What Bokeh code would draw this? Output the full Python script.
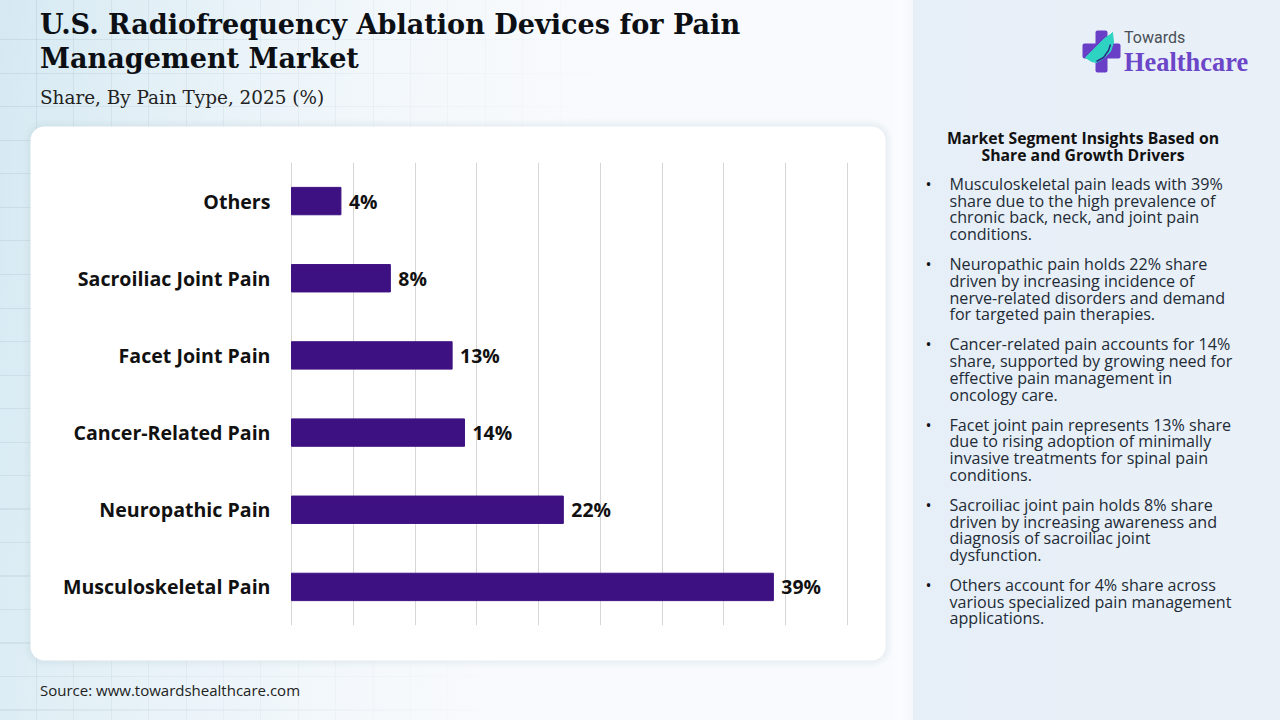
from bokeh.embed import file_html
from bokeh.resources import INLINE
from bokeh.plotting import figure
from bokeh.models import (BoxAnnotation, ColumnDataSource, FactorRange, FixedTicker,
                          GlobalInlineStyleSheet, Range1d)

categories = ["Musculoskeletal Pain", "Neuropathic Pain", "Cancer-Related Pain",
              "Facet Joint Pain", "Sacroiliac Joint Pain", "Others"]
shares = [39, 22, 14, 13, 8, 4]
share_labels = ["39%", "22%", "14%", "13%", "8%", "4%"]
grid_ticks = [0, 5, 10, 15, 20, 25, 30, 35, 40, 45]

title_lines = ["U.S. Radiofrequency Ablation Devices for Pain", "Management Market"]
subtitle = "Share, By Pain Type, 2025 (%)"
source_text = "Source: www.towardshealthcare.com"
insight_heading = ["Market Segment Insights Based on", "Share and Growth Drivers"]
insights = [
    ["Musculoskeletal pain leads with 39%", "share due to the high prevalence of",
     "chronic back, neck, and joint pain", "conditions."],
    ["Neuropathic pain holds 22% share", "driven by increasing incidence of",
     "nerve-related disorders and demand", "for targeted pain therapies."],
    ["Cancer-related pain accounts for 14%", "share, supported by growing need for",
     "effective pain management in", "oncology care."],
    ["Facet joint pain represents 13% share", "due to rising adoption of minimally",
     "invasive treatments for spinal pain", "conditions."],
    ["Sacroiliac joint pain holds 8% share", "driven by increasing awareness and",
     "diagnosis of sacroiliac joint", "dysfunction."],
    ["Others account for 4% share across", "various specialized pain management",
     "applications."],
]

W, H = 1280, 720
PAD = 1                               # frame overshoot so the edge grid lines are drawn
FL, FR, FT, FB = 291, 847, 162, 625   # plot area in window pixels
UNIT = 45 / (FR - FL)

css = """
html, body { margin: 0; overflow: hidden; }
html { background:
  linear-gradient(90deg, transparent 913px, #e6eef7 913px, #e9f0f8 1280px),
  linear-gradient(90deg, transparent 890px, #fbfcfe 900px, #f4f7fb 913px, transparent 913px),
  linear-gradient(100deg, rgba(250,252,254,0) 0px, rgba(248,251,253,0.35) 200px, rgba(248,250,253,1) 620px),
  repeating-linear-gradient(90deg, rgba(185,205,218,.55) 0 1px, transparent 1px 37.4px) 36px 0,
  repeating-linear-gradient(0deg, rgba(185,205,218,.55) 0 1px, transparent 1px 33.5px) 0 24px,
  linear-gradient(90deg, #d5e9f2 0px, #dcecf4 200px, #f6f9fc 640px);
  background-repeat: no-repeat;
}
body { background: transparent; }
"""

# layer 1: page furniture, drawn in window pixels
bg = figure(width=W, height=H, output_backend="svg", toolbar_location=None,
            x_range=Range1d(0, W), y_range=Range1d(H, 0), min_border=0,
            x_axis_location=None, y_axis_location=None,
            border_fill_alpha=0, background_fill_alpha=0, outline_line_color=None)
bg.grid.visible = False
bg.stylesheets = [GlobalInlineStyleSheet(css=css)]


def box(l, r, t, b, color, alpha=1.0, radius=0):
    bg.add_layout(BoxAnnotation(left=l, right=r, top=t, bottom=b,
                                fill_color=color, fill_alpha=alpha, line_color=None,
                                border_radius=radius, level="underlay"))


def text(x, y, s, size, color="#111111", font="Open Sans", style="normal", align="left"):
    bg.text(x=[x], y=[y], text=[s], text_font={"value": font}, text_font_size=f"{size}px",
            text_font_style=style, text_color=color, text_align=align, text_baseline="middle")


# card with soft shadow
for grow, a in ((7, .04), (5, .05), (3, .06), (1, .07)):
    box(30 - grow, 885 + grow, 126 - grow, 660 + grow, "#b9c6cf", a, 14 + grow)
box(30, 885, 126, 660, "#ffffff", 1, 14)

# heading
for i, line in enumerate(title_lines):
    text(39.5, 24 + i * 34, line, 27.1, "#0c0f14", "DejaVu Serif", "bold")
text(39.5, 97, subtitle, 18.4, "#222222", "DejaVu Serif")
text(39.5, 689, source_text, 15, "#222222", "Open Sans")

# insights panel
for i, line in enumerate(insight_heading):
    text(1082.5, 137 + i * 17, line, 15.75, "#111111", "Open Sans", "bold", "center")
y = 183.5
for block in insights:
    text(925, y, "\u2022", 16, "#111111")
    for line in block:
        text(949, y, line, 16.1, "#222b35", "Open Sans")
        y += 16.7
    y += 13.4

# logo
box(1095, 1107, 30, 72, "#6a3fc8", 1, 2)
box(1082, 1120, 43, 58, "#6a3fc8", 1, 2)
bg.patch([1085, 1092, 1098, 1104, 1110, 1112, 1113, 1110, 1103, 1096, 1091],
         [57, 50, 44, 38, 34, 32, 42, 51, 58, 62, 61], color="#2fd3c2")
bg.line([1096, 1103, 1108, 1110], [61, 57, 50, 44], color="#2d2a8a", line_width=1.5)
text(1123.5, 37, "Towards", 16, "#4a4f57", "Roboto")
text(1123.5, 61, "Healthcare", 26.4, "#6c46c8", "Liberation Serif", "bold")

# layer 2: the chart, transparent and stacked over layer 1
p = figure(width=W, height=H, output_backend="svg", toolbar_location=None,
           x_range=Range1d(-PAD * UNIT, 45 + PAD * UNIT),
           y_range=FactorRange(factors=categories, range_padding=0),
           min_border_left=FL - PAD, min_border_right=W - FR - PAD,
           min_border_top=FT, min_border_bottom=H - FB,
           border_fill_alpha=0, background_fill_alpha=0, outline_line_color=None,
           styles={"position": "absolute", "left": "0", "top": "0"})

p.hbar(y=categories, left=0, right=shares, height=0.355, color="#3e1182")
src = ColumnDataSource(dict(x=shares, y=categories, t=share_labels))
p.text(x="x", y="y", text="t", source=src, x_offset=8, y_offset=0,
       text_font={"value": "Open Sans"}, text_font_style="bold", text_font_size="19.4px",
       text_baseline="middle", text_color="#111111")

p.xaxis.visible = False
p.xaxis.ticker = FixedTicker(ticks=grid_ticks)
p.xgrid.ticker = FixedTicker(ticks=grid_ticks)
p.xgrid.grid_line_color = "#d6d6d6"
p.ygrid.visible = False
ax = p.yaxis[0]
ax.axis_line_color = None
ax.major_tick_line_color = None
ax.minor_tick_line_color = None
ax.major_label_standoff = 14
ax.major_label_text_font = "Open Sans"
ax.major_label_text_font_style = "bold"
ax.major_label_text_font_size = "19.6px"
ax.major_label_text_color = "#111111"

open("out.html", "w").write(file_html((bg, p), INLINE))
